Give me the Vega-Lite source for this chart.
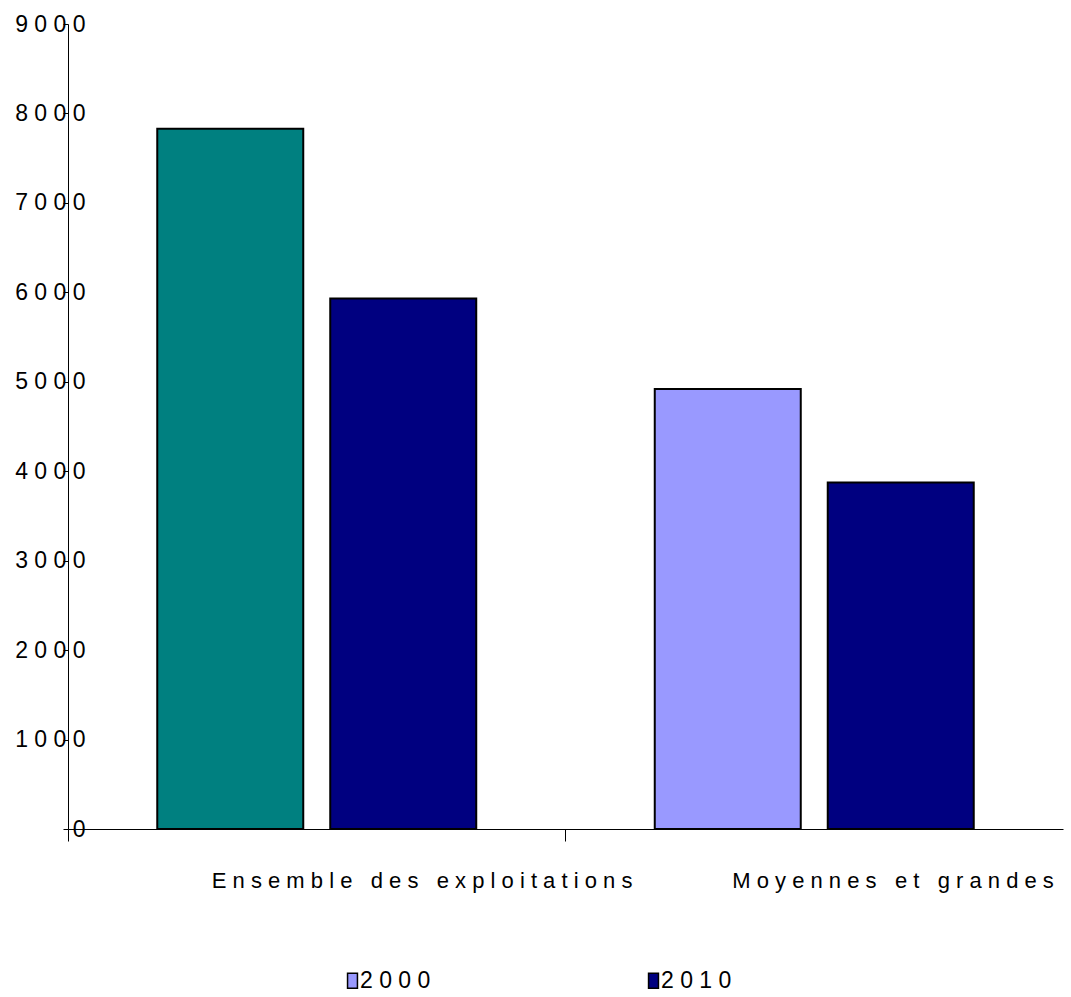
{
  "$schema": "https://vega.github.io/schema/vega-lite/v6.json",
  "autosize": {"type": "none"},
  "padding": {"left": 68, "top": 24, "right": 8, "bottom": 168},
  "width": 995,
  "height": 805,
  "background": "white",
  "config": {
    "view": {"stroke": null},
    "font": "Liberation Sans, Arial, sans-serif"
  },
  "data": {
    "values": [
      {"category": "Ensemble des exploitations", "year": "2000", "value": 7830},
      {"category": "Ensemble des exploitations", "year": "2010", "value": 5930},
      {"category": "Moyennes et grandes", "year": "2000", "value": 4920},
      {"category": "Moyennes et grandes", "year": "2010", "value": 3875}
    ]
  },
  "mark": {"type": "bar", "stroke": "black", "strokeWidth": 2},
  "encoding": {
    "x": {
      "field": "category",
      "type": "nominal",
      "sort": null,
      "title": null,
      "scale": {"paddingInner": 0, "paddingOuter": 0},
      "axis": {
        "bandPosition": 0,
        "labelAngle": 0,
        "domainColor": "black",
        "tickColor": "black",
        "tickSize": 12,
        "labelPadding": 29,
        "labelAlign": "left",
        "labelBaseline": "top",
        "labelFont": "Liberation Sans, Arial, sans-serif",
        "labelFontSize": 22,
        "labelColor": "black",
        "labelLimit": 0,
        "labelOverlap": false,
        "labelBound": false,
        "labelFlush": false,
        "labelOffset": {"condition": {"test": "datum.value == 'Ensemble des exploitations'", "value": -105}, "value": -82},
        "labelExpr": "join(split(datum.label, ''), '\u00a0')"
      }
    },
    "xOffset": {
      "field": "year",
      "type": "nominal",
      "scale": {"paddingInner": 0.156, "paddingOuter": 0.516}
    },
    "y": {
      "field": "value",
      "type": "quantitative",
      "title": null,
      "scale": {"domain": [0, 9000], "nice": false},
      "axis": {
        "values": [0, 1000, 2000, 3000, 4000, 5000, 6000, 7000, 8000, 9000],
        "grid": false,
        "domainColor": "black",
        "tickColor": "black",
        "tickSize": 5,
        "labelPadding": -22,
        "labelFont": "Liberation Sans, Arial, sans-serif",
        "labelFontSize": 23,
        "labelColor": "black",
        "labelBound": false,
        "labelFlush": false,
        "labelOverlap": false,
        "labelExpr": "join(split(format(datum.value, 'd'), ''), '\u00a0')"
      }
    },
    "color": {
      "condition": {"test": "datum.category == 'Ensemble des exploitations' && datum.year == '2000'", "value": "#008080"},
      "field": "year",
      "type": "nominal",
      "title": null,
      "scale": {"domain": ["2000", "2010"], "range": ["#9999FF", "#000080"]},
      "legend": {
        "orient": "none",
        "direction": "horizontal",
        "legendX": 273,
        "legendY": 945,
        "padding": 0,
        "columnPadding": 211,
        "symbolType": "M-0.66,-1H0.66V1H-0.66Z",
        "symbolSize": 225,
        "symbolStrokeColor": "black",
        "symbolStrokeWidth": 1.5,
        "symbolOpacity": 1,
        "labelOffset": -4,
        "labelFont": "Liberation Sans, Arial, sans-serif",
        "labelFontSize": 23,
        "labelColor": "black",
        "labelLimit": 0,
        "labelExpr": "join(split(datum.label, ''), '\u00a0')"
      }
    }
  }
}
